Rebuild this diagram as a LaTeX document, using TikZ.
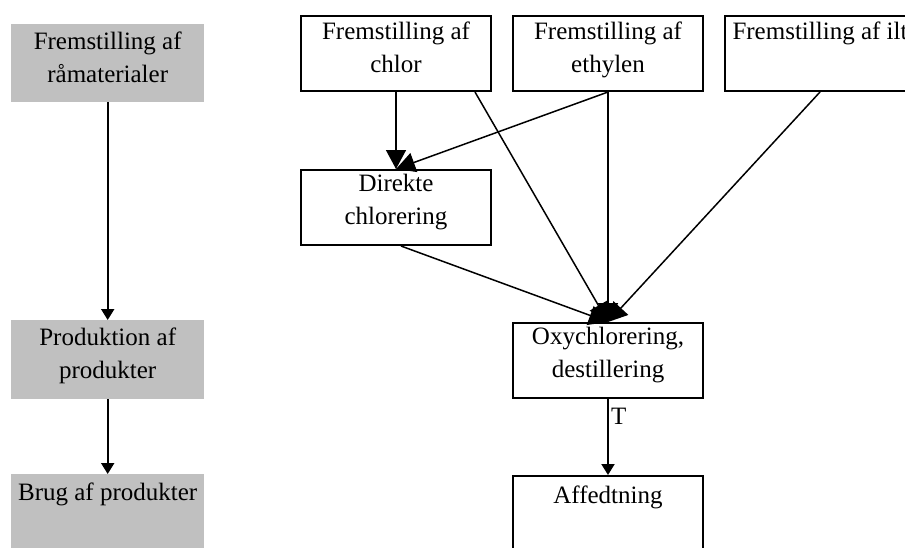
\documentclass[tikz,border=0pt]{standalone}
\usepackage{fontspec}
\setmainfont{Liberation Serif}
\usetikzlibrary{arrows.meta,calc}
\definecolor{boxgray}{HTML}{C0C0C0}
\begin{document}
\begin{tikzpicture}[x=1pt,y=-1pt,
  lab/.style={font=\fontsize{25}{33}\selectfont, align=center, inner sep=0pt, anchor=north},
  graybox/.style={fill=boxgray, draw=none, minimum width=193pt, anchor=north west, inner sep=0pt},
  wbox/.style={draw=black, line width=2pt, minimum width=190pt, anchor=north west, inner sep=0pt},
  bigarrow/.style={line width=1.5pt, -{Triangle[width=20pt,length=19pt]}},
  smallarrow/.style={line width=2pt, -{Triangle[width=13pt,length=11pt]}}]
\useasboundingbox (0,0) rectangle (905,547);

% left gray column
\node[graybox, minimum height=78pt] (g1) at (11,24) {};
\node[graybox, minimum height=79pt] (g2) at (11,320) {};
\node[graybox, minimum height=80pt] (g3) at (11,474) {};
\node[lab] (g1t) at ($(g1.north)+(0,8)$) {Fremstilling af\\råmaterialer};
\node[lab] (g2t) at ($(g2.north)+(0,8)$) {Produktion af\\produkter};
\node[lab] (g3t) at ($(g3.north)+(0,9)$) {Brug af produkter};
\draw[smallarrow] (g1.south) -- (g2.north);
\draw[smallarrow] (g2.south) -- (g3.north);

% right boxes
\node[wbox, minimum height=75pt] (chlor) at (300,15) {};
\node[wbox, minimum height=75pt] (ethylen) at (512,15) {};
\node[wbox, minimum height=75pt] (ilt) at (724,15) {};
\node[wbox, minimum height=75pt] (direkte) at (300,169) {};
\node[wbox, minimum height=75pt] (oxy) at (512,322) {};
\node[wbox, minimum height=90pt] (affedt) at (512,475) {};

\node[lab] (chlort) at ($(chlor.north)+(0,7)$) {Fremstilling af\\chlor};
\node[lab] (ethylent) at ($(ethylen.north)+(0,7)$) {Fremstilling af\\ethylen};
\node[lab] (iltt) at ($(ilt.north)+(0,7)$) {Fremstilling af ilt};
\node[lab] (direktet) at ($(direkte.north)+(0,5)$) {Direkte\\chlorering};
\node[lab] (oxyt) at ($(oxy.north)+(0,5)$) {Oxychlorering,\\destillering};
\node[lab] (affedtt) at ($(affedt.north)+(0,11)$) {Affedtning};

% connectors
\coordinate (chlorB) at ($(chlor.south east)+(-17,0)$);
\coordinate (direkteB) at ($(direkte.south)+(5,0)$);
\draw[bigarrow] (chlor.south) -- (direkte.north);
\draw[bigarrow] (ethylen.south) -- (direkte.north);
\draw[bigarrow] (direkteB) -- (oxy.north);
\draw[bigarrow] (chlorB) -- (oxy.north);
\draw[bigarrow] (ethylen.south) -- (oxy.north);
\draw[bigarrow] (ilt.south) -- (oxy.north);
\draw[smallarrow] (oxy.south) -- (affedt.north);
\node[font=\fontsize{25}{33}\selectfont, inner sep=0pt, anchor=base west] (tlab) at (611,424) {T};
\end{tikzpicture}
\end{document}
